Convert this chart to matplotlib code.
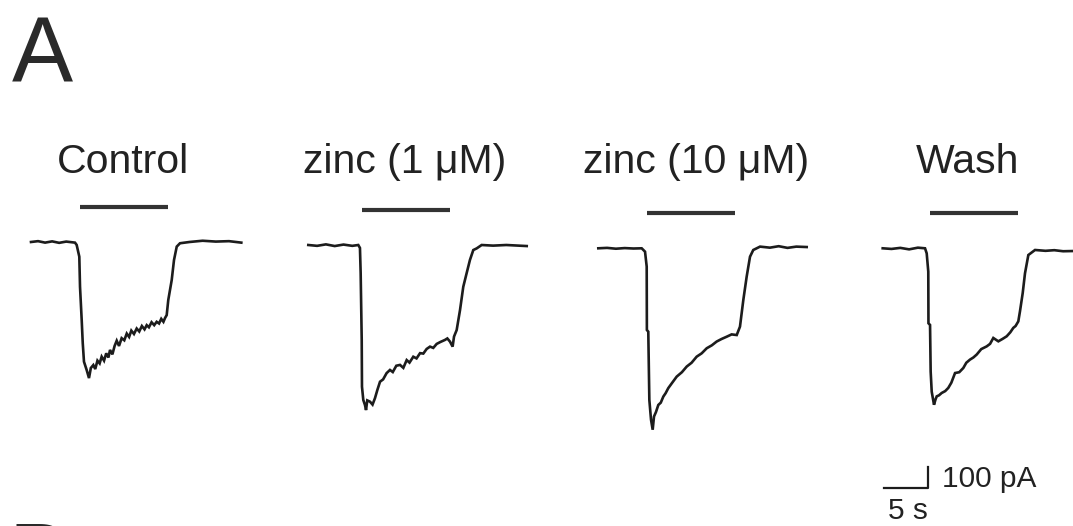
import matplotlib.pyplot as plt

plt.rcParams["font.family"] = ["Liberation Sans", "DejaVu Sans"]

# Whole-cell currents (pA) against time (s) from the start of each sweep
conditions = ["Control", "zinc (1 \u03bcM)", "zinc (10 \u03bcM)", "Wash"]

t_control = [0, 0.8, 1.6, 2.4, 3.2, 4.0, 5.0, 5.19, 5.49, 5.57, 5.76, 5.88, 6.02,
             6.33, 6.59, 6.8, 7.08, 7.3, 7.55, 7.8, 8.03, 8.3, 8.55, 8.8, 8.98, 9.25,
             9.5, 9.74, 10.0, 10.3, 10.6, 10.88, 11.15, 11.4, 11.7, 12.01, 12.3, 12.6,
             12.9, 13.15, 13.4, 13.7, 14.0, 14.28, 14.55, 14.8, 15.05, 15.23, 15.42,
             15.6, 15.99, 16.25, 16.56, 16.93, 18.0, 19.5, 21.0, 22.5, 23.9]
i_control = [0, 4, -3, 3, -4, 2, -3, -14, -70, -213, -371, -481, -570,
             -610, -648, -600, -586, -605, -565, -578, -546, -565, -530, -550, -514, -535,
             -495, -470, -495, -458, -468, -436, -452, -422, -438, -412, -426, -400,
             -416, -396, -406, -382, -396, -380, -388, -366, -380, -362, -348,
             -276, -181, -86, -22, -6, 0, 6, 2, 4, -3]

t_zinc1 = [0, 1.0, 2.0, 3.0, 4.0, 5.0, 5.68, 5.87, 5.95, 6.07, 6.1, 6.25, 6.44,
           6.56, 6.7, 7.01, 7.3, 7.58, 7.85, 8.15, 8.5, 8.9, 9.28, 9.6, 10.0, 10.42,
           10.8, 11.18, 11.5, 11.93, 12.3, 12.7, 13.07, 13.45, 13.83, 14.2, 14.59,
           15.0, 15.53, 15.8, 16.1, 16.4, 16.56, 16.86, 17.24, 17.61, 18.0, 18.37,
           18.75, 19.14, 19.7, 21.0, 22.5, 24.82]
i_zinc1 = [0, -4, 3, -5, 2, -4, 0, -14, -133, -452, -675, -738, -762,
           -786, -740, -746, -760, -729, -690, -651, -640, -610, -595, -605, -575, -571,
           -585, -548, -560, -532, -540, -515, -517, -495, -484, -490, -471,
           -462, -452, -445, -460, -484, -436, -405, -310, -199, -133, -71,
           -24, -16, 0, -3, 0, -5]

t_zinc10 = [0, 1.0, 2.0, 3.0, 4.0, 4.93, 5.31, 5.5, 5.52, 5.68, 5.8, 5.99, 6.18,
            6.33, 6.55, 6.82, 7.1, 7.39, 7.65, 7.95, 8.4, 8.91, 9.5, 10.05, 10.6,
            11.18, 11.75, 12.32, 12.9, 13.45, 14.0, 14.59, 15.15, 15.73, 16.1, 16.48,
            16.86, 17.24, 17.61, 18.38, 19.5, 20.5, 21.5, 22.5, 23.68]
i_zinc10 = [0, 2, -2, 1, -1, 0, -16, -87, -389, -397, -722, -816, -864,
            -801, -780, -746, -735, -706, -690, -666, -640, -611, -590, -563, -545,
            -516, -500, -476, -462, -444, -432, -421, -410, -413, -373, -246,
            -135, -40, -8, 8, 3, 10, 2, 8, 6]

t_wash = [0, 1.0, 2.0, 3.0, 4.0, 4.81, 5.0, 5.18, 5.2, 5.38, 5.45, 5.57, 5.83,
          6.0, 6.14, 6.4, 6.7, 7.1, 7.45, 7.8, 8.22, 8.7, 9.16, 9.5, 9.92, 10.3,
          10.68, 11.2, 11.82, 12.2, 12.57, 13.14, 13.6, 14.09, 14.5, 14.84, 15.1,
          15.41, 15.6, 15.91, 16.17, 16.55, 17.31, 18.5, 19.5, 20.5, 21.63]
i_wash = [0, -3, 2, -5, 3, 0, -24, -111, -357, -365, -587, -683, -745,
          -720, -705, -700, -689, -680, -665, -640, -594, -590, -570, -545, -530, -520,
          -506, -480, -467, -455, -427, -443, -432, -419, -400, -379, -370,
          -348, -300, -213, -119, -32, -8, -12, -9, -14, -13]

traces_t = [t_control, t_zinc1, t_zinc10, t_wash]
traces_i = [i_control, i_zinc1, i_zinc10, i_wash]

# zinc / agonist application: onset (s) and duration (s)
bar_on = [5.57, 6.1, 5.53, 5.38]
bar_dur = 10.0

# calibration bar
scale_t = 5.0
scale_i = 100.0

# page scale: pixels per second and pixels per pA
PX_S = 8.8
PX_PA = 0.21
W, H = 1073, 526

# sweep origin (px) and baseline level (px) of each trace
x0_px = [31, 308.3, 598.3, 882.7]
base_px = [242, 245, 248.3, 248.3]
label_x = [123, 405, 696, 968]

fig = plt.figure(figsize=(W / 100, H / 100), dpi=100)
ax = fig.add_axes([0, 0, 1, 1])
ax.set_xlim(0, W / PX_S)
ax.set_ylim(-H / PX_PA, 0)
ax.axis("off")

ink = "#1c1c1c"

for k in range(4):
    xs = x0_px[k] / PX_S
    ys = -base_px[k] / PX_PA
    ax.plot([xs + t for t in traces_t[k]], [ys + i for i in traces_i[k]],
            color=ink, lw=1.9, solid_joinstyle="miter")
    bar_y = ys + 35 / PX_PA
    ax.plot([xs + bar_on[k], xs + bar_on[k] + bar_dur], [bar_y, bar_y],
            color="#333333", lw=3.0, solid_capstyle="butt")
    fig.text(label_x[k] / W, 1 - 173 / H, conditions[k], ha="center",
             va="baseline", fontsize=29.5, color="#222222")

# calibration: 5 s horizontal, 100 pA vertical
sx = 928 / PX_S
sy = -488 / PX_PA
ax.plot([sx - scale_t, sx, sx], [sy, sy, sy + scale_i], color=ink, lw=1.6)
fig.text(942 / W, 1 - 487 / H, "%d pA" % scale_i, ha="left", va="baseline",
         fontsize=21.5, color="#222222")
fig.text(888 / W, 1 - 519 / H, "%d s" % scale_t, ha="left", va="baseline",
         fontsize=21.5, color="#222222")

# panel letters
fig.text(12 / W, 1 - 82 / H, "A", ha="left", va="baseline", fontsize=66,
         color="#2a2a2a")
fig.text(8 / W, 1 - 588 / H, "B", ha="left", va="baseline", fontsize=66,
         color="#2a2a2a")

fig.savefig("out.png", dpi=100)
